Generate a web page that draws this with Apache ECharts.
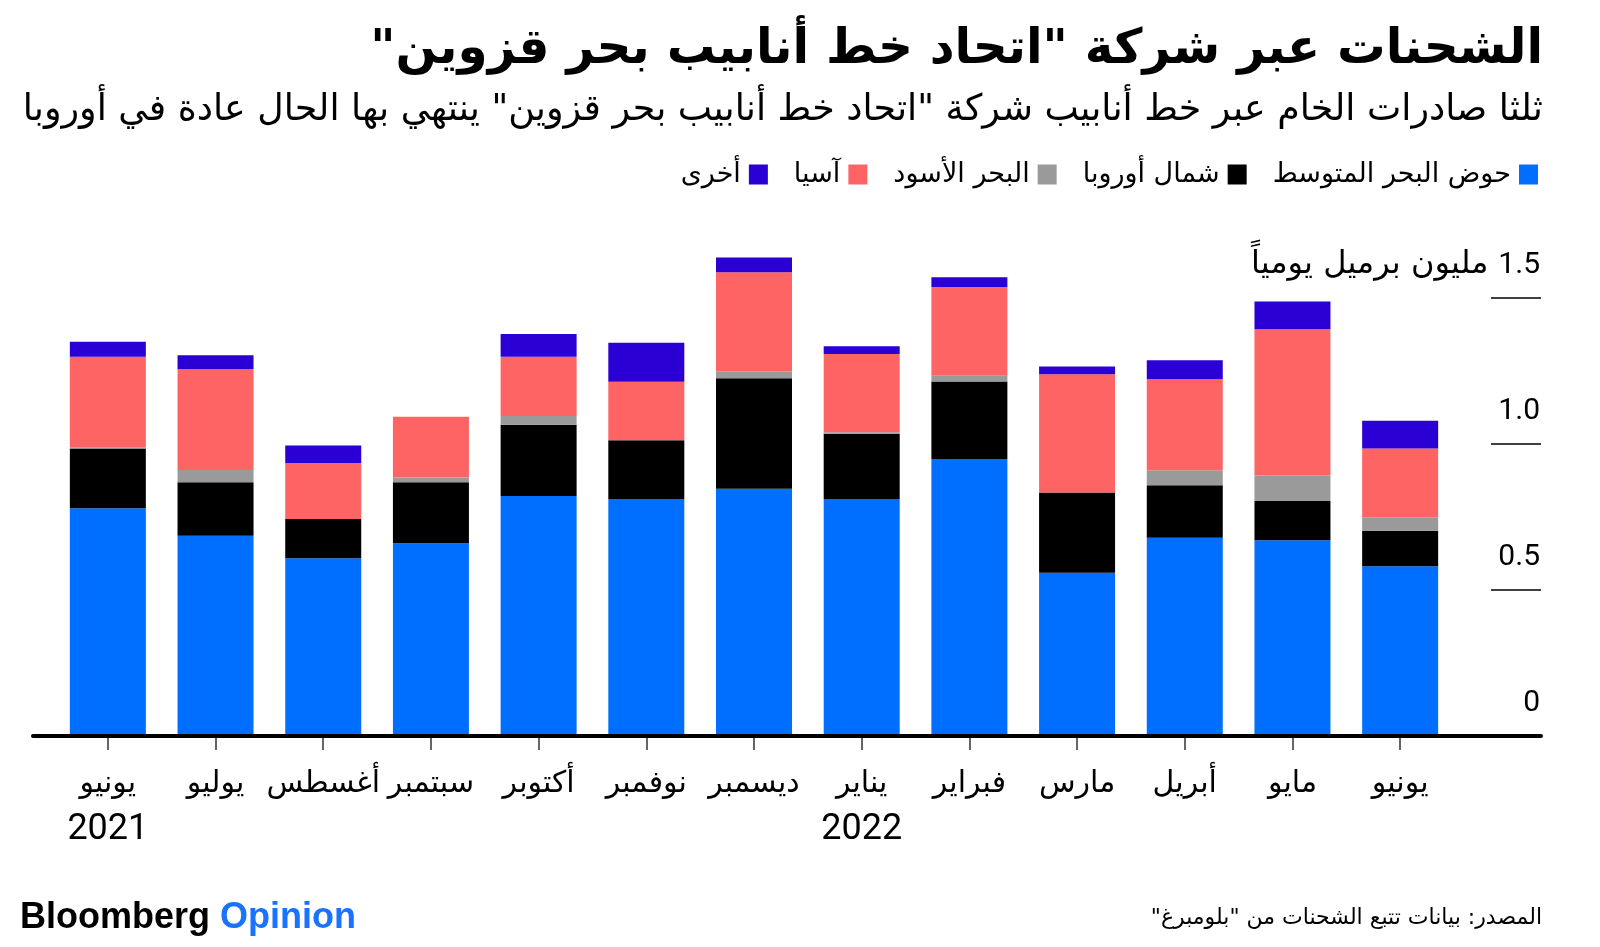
<!DOCTYPE html>
<html dir="rtl">
<head>
<meta charset="utf-8">
<script src="https://cdn.jsdelivr.net/npm/echarts@6/dist/echarts.min.js"></script>
<style>
html,body{margin:0;padding:0;background:#fff;}
#chart{width:1600px;height:947px;}
</style>
</head>
<body>
<div id="chart"></div>
<script>
// ---- data ----
const months = ['يونيو','يوليو','أغسطس','سبتمبر','أكتوبر','نوفمبر','ديسمبر','يناير','فبراير','مارس','أبريل','مايو','يونيو'];
const years  = ['2021','','','','','','','2022','','','','',''];
const seriesNames = ['حوض البحر المتوسط','شمال أوروبا','البحر الأسود','آسيا','أخرى'];
const mediterranean = [0.780,0.686,0.609,0.660,0.822,0.812,0.847,0.812,0.949,0.559,0.679,0.670,0.581];
const northEurope   = [0.205,0.183,0.134,0.209,0.244,0.201,0.378,0.223,0.265,0.275,0.180,0.135,0.122];
const blackSea      = [0.004,0.042,0.000,0.016,0.030,0.000,0.023,0.005,0.020,0.000,0.051,0.087,0.046];
const asia          = [0.310,0.345,0.192,0.208,0.203,0.200,0.340,0.268,0.304,0.405,0.312,0.501,0.236];
const other         = [0.051,0.048,0.060,0.000,0.078,0.134,0.051,0.027,0.033,0.026,0.065,0.095,0.095];
const yTicks = [0, 0.5, 1.0, 1.5];
const unitLabel = 'مليون برميل يومياً';
const titleText = 'الشحنات عبر شركة "اتحاد خط أنابيب بحر قزوين"';
const subtitleText = 'ثلثا صادرات الخام عبر خط أنابيب شركة "اتحاد خط أنابيب بحر قزوين" ينتهي بها الحال عادة في أوروبا';
const sourceText = 'المصدر: بيانات تتبع الشحنات من "بلومبرغ"';

const colors = ['#006fff','#000000','#9a9a9a','#ff6464','#2a00d5'];
const values = [mediterranean, northEurope, blackSea, asia, other];
const AR = 'DejaVu Sans';

const chart = echarts.init(document.getElementById('chart'), null, {renderer:'canvas'});
const option = {
  backgroundColor: '#fff',
  animation: false,
  textStyle: {fontFamily: AR},
  legend: {
    data: seriesNames.slice().reverse(),
    right: 57, top: 156,
    align: 'right',
    itemWidth: 19, itemHeight: 20,
    itemGap: 26,
    icon: 'rect',
    textStyle: {fontFamily: AR, fontSize: 27, color: '#000', padding: [0,3,0,0]}
  },
  grid: [
    {left: 54, right: 146, top: 225, bottom: 211},
    {left: 33, right: 59, top: 298, bottom: 211}
  ],
  xAxis: [
    {
      type: 'category', gridIndex: 0, data: months,
      axisLine: {show: false},
      axisTick: {show: true, alignWithLabel: true, length: 14, lineStyle: {color: '#333', width: 1.5}},
      axisLabel: {
        margin: 25, interval: 0,
        formatter: (v, i) => years[i] ? '{m|' + v + '}\n{y|' + years[i] + '}' : '{m|' + v + '}',
        rich: {
          m: {fontFamily: AR, fontSize: 30, lineHeight: 46, color: '#000'},
          y: {fontFamily: 'Roboto', fontSize: 36, lineHeight: 46, color: '#000'}
        }
      }
    },
    {
      type: 'category', gridIndex: 1, data: [''], z: 10,
      axisLine: {show: true, lineStyle: {color: '#000', width: 4}},
      axisTick: {show: false}, axisLabel: {show: false}, splitLine: {show: false}
    }
  ],
  yAxis: [
    {type: 'value', gridIndex: 0, min: 0, max: 1.75, show: false},
    {
      type: 'value', gridIndex: 1, position: 'right', min: 0, max: 1.5, interval: 0.5,
      axisLine: {show: false, onZero: false},
      splitLine: {show: false},
      axisTick: {show: true, inside: true, length: 50, lineStyle: {color: '#000', width: 1.5}},
      axisLabel: {
        inside: true, margin: 1, verticalAlign: 'middle', padding: [0,0,66,0],
        formatter: v => {
          const t = yTicks.includes(v) ? (v === 0 ? '0' : v.toFixed(1)) : '';
          return v === 1.5 ? '{u|' + unitLabel + '}{n|' + t + '}' : '{n|' + t + '}';
        },
        rich: {
          n: {fontFamily: 'Roboto', fontSize: 30, color: '#000', padding: [0,0,0,10]},
          u: {fontFamily: AR, fontSize: 32, color: '#000'}
        }
      }
    }
  ],
  series: seriesNames.map((name, k) => ({
    name, type: 'bar', stack: 'total', xAxisIndex: 0, yAxisIndex: 0,
    barWidth: 76, data: values[k],
    itemStyle: {color: colors[k]}
  })),
  graphic: [
    {type: 'text', x: 1543, y: 50, style: {text: titleText, font: 'bold 48.5px "DejaVu Sans"', fill: '#000', align: 'right', verticalAlign: 'middle'}},
    {type: 'text', x: 1543, y: 111, style: {text: subtitleText, font: '36.4px "DejaVu Sans"', fill: '#000', align: 'right', verticalAlign: 'middle'}},
    {type: 'text', x: 1542, y: 918, style: {text: sourceText, font: '22px "DejaVu Sans"', fill: '#000', align: 'right', verticalAlign: 'middle'}},
    {type: 'text', x: 20, y: 918, style: {
      text: '{b|Bloomberg}{o|Opinion}', align: 'left', verticalAlign: 'middle',
      rich: {
        b: {fontFamily: 'Liberation Sans', fontWeight: 'bold', fontSize: 36, fill: '#000'},
        o: {fontFamily: 'Liberation Sans', fontWeight: 'bold', fontSize: 36, fill: '#1a73ff', padding: [0,0,0,10]}
      }
    }}
  ]
};
chart.setOption(option);
</script>
</body>
</html>
